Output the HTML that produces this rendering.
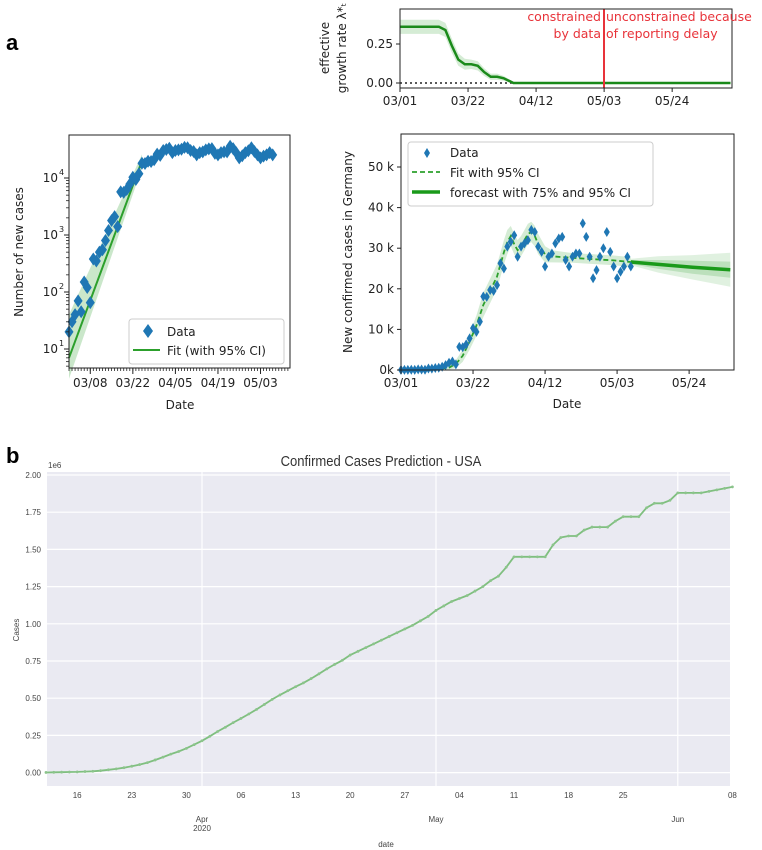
<!DOCTYPE html>
<html><head><meta charset="utf-8"><style>
body{margin:0;background:#fff}
svg{display:block;font-family:"DejaVu Sans","Liberation Sans",sans-serif}
.tk{font-size:12px;fill:#222}
.bt{font-family:"Liberation Sans",sans-serif;font-size:8px;fill:#444}
</style></head><body>
<svg id="fig" width="762" height="850" viewBox="0 0 762 850" xmlns="http://www.w3.org/2000/svg">
<text x="6" y="50" font-family="Liberation Sans" font-weight="bold" font-size="22">a</text>
<text x="6" y="463" font-family="Liberation Sans" font-weight="bold" font-size="22">b</text>
<g id="top"></g>
<g id="left"></g>
<g id="right"></g>
<g id="bot"></g>
</svg>
<script>
// ---- data ----
const caseDays = [];
const dailyCasesK = [0.02,0.03,0.04,0.07,0.045,0.15,0.12,0.065,0.38,0.35,0.5,0.55,0.8,1.2,1.8,2.1,1.4,5.7,5.6,6.3,7.8,10.3,9.4,11.9,18.1,18.0,19.7,19.5,20.9,26.3,25.0,30.4,31.6,33.2,27.9,30.4,31.2,32.0,34.5,34.0,30.4,29.1,25.5,27.9,28.7,31.2,32.4,32.8,27.1,25.5,27.9,28.7,28.7,36.1,32.8,27.9,22.6,24.6,27.9,30.0,34.0,29.1,25.5,22.6,24.2,25.5,27.9,25.5];
for(let i=0;i<dailyCasesK.length;i++) caseDays.push(i);
const fitDays = [0,10,14,16,18,20,22,24,26,28,29,30,31,32,33,34,35,36,37,38,39,40,42,44,50,56,62,67];
const fitK =    [0,0.2,0.6,1.5,3.5,7,11,16,19.5,23,26,29,31.5,33,31,29.5,30.5,32,33.5,34,33,31,28.5,28,27.6,27.3,27,26.6];
const fitBand = [0,0.2,0.5,1,1.5,2,2.5,3,3,3,3,3,3,2.5,2.5,2.5,2.5,2.5,2.5,2.5,2.5,2.5,2,1.5,1.2,1.2,1.2,1.2];
const fcDays = [67,75,85,96];
const fcK = [26.6,26,25.3,24.7];
const fc75 = [0.5,1.1,1.6,2.0];
const fc95 = [0.8,2,3,4.2];
const logFitDays = [0,24];
const logFitVals = [7,20000];
const lamDays = [0,12,14,16,18,20,22,24,26,28,30,32,34,35,102];
const lamVals = [0.36,0.36,0.34,0.24,0.15,0.12,0.12,0.11,0.07,0.04,0.04,0.03,0.01,0,0];
const lamBand = [0.045,0.045,0.045,0.045,0.04,0.035,0.03,0.03,0.025,0.02,0.02,0.015,0.01,0,0];
const usaStartDay = -20; // Mar 12 relative to Apr 1
const usaCasesM = [0.001,0.002,0.003,0.004,0.005,0.007,0.009,0.013,0.019,0.025,0.033,0.043,0.054,0.067,0.085,0.104,0.124,0.142,0.163,0.188,
0.214,0.244,0.276,0.305,0.336,0.364,0.394,0.425,0.458,0.492,0.522,0.55,0.577,0.603,0.632,0.664,0.697,0.727,0.755,0.79,0.815,0.84,0.865,0.89,0.915,0.94,0.965,0.99,1.02,1.05,
1.09,1.12,1.15,1.17,1.19,1.22,1.25,1.29,1.32,1.38,1.45,1.45,1.45,1.45,1.45,1.53,1.58,1.59,1.59,1.63,1.65,1.65,1.65,1.69,1.72,1.72,1.72,1.78,1.81,1.81,1.83,
1.88,1.88,1.88,1.88,1.89,1.90,1.91,1.92];
const usaYTicks = [0,0.25,0.5,0.75,1.0,1.25,1.5,1.75,2.0];
const usaYLabels = ["0.00","0.25","0.50","0.75","1.00","1.25","1.50","1.75","2.00"];
const usaXTickDays = [-16,-9,-2,5,12,19,26,33,40,47,54,68];
const usaXTickLabels = ["16","23","30","06","13","20","27","04","11","18","25","08"];
const rightYTicks = [0,10,20,30,40,50];
const rightYLabels = ["0k","10 k","20 k","30 k","40 k","50 k"];
const rightXTickDays = [0,21,42,63,84];
const rightXLabels = ["03/01","03/22","04/12","05/03","05/24"];
const leftXTickDays = [7,21,35,49,63];
const leftXLabels = ["03/08","03/22","04/05","04/19","05/03"];
const topYTicks = [0,0.25];
const topYLabels = ["0.00","0.25"];

const NS="http://www.w3.org/2000/svg";
function mk(p,tag,a,txt){const e=document.createElementNS(NS,tag);for(const k in a)e.setAttribute(k,a[k]);if(txt!==undefined)e.textContent=txt;p.appendChild(e);return e;}
function pts(xs,ys,fx,fy){return xs.map((d,i)=>fx(d).toFixed(1)+","+fy(ys[i]).toFixed(1)).join(" ");}
function band(xs,ys,ws,fx,fy,s){const up=xs.map((d,i)=>fx(d).toFixed(1)+","+fy(ys[i]+ws[i]*s).toFixed(1));const lo=xs.map((d,i)=>fx(d).toFixed(1)+","+fy(Math.max(ys[i]-ws[i]*s,0)).toFixed(1)).reverse();return up.concat(lo).join(" ");}

// ---- top growth-rate ----
(function(){
const g=document.getElementById('top');
const xT=d=>400+3.24*d, yT=l=>83-156*l;
let e=mk(g,'polygon',{points:band(lamDays,lamVals,lamBand,xT,yT,1),fill:'#2ca02c','fill-opacity':0.2});

e=mk(g,'line',{x1:xT(0),x2:xT(35),y1:yT(0),y2:yT(0),stroke:'#222','stroke-dasharray':'2,3','stroke-width':1.5});

e=mk(g,'polyline',{points:pts(lamDays,lamVals,xT,yT),fill:'none',stroke:'#1a8a1a','stroke-width':2.5});

e=mk(g,'line',{x1:604,x2:604,y1:9,y2:88,stroke:'#e8333a','stroke-width':2});

e=mk(g,'rect',{x:400,y:9,width:332,height:79,fill:'none',stroke:'#222'});

const ann=[["constrained",601,21,"end"],["unconstrained because",606,21,"start"],["by data",601,38,"end"],["of reporting delay",606,38,"start"]];
ann.forEach(a=>{e=mk(g,'text',{x:a[1],y:a[2],'text-anchor':a[3],fill:'#e8333a','font-size':12.5},a[0]);});
topYTicks.forEach((v,i)=>{mk(g,'line',{x1:396,x2:400,y1:yT(v),y2:yT(v),stroke:'#222'});
e=mk(g,'text',{x:393,y:yT(v)+4,'text-anchor':'end',class:'tk'},topYLabels[i]);});
rightXTickDays.forEach((d,i)=>{mk(g,'line',{x1:xT(d),x2:xT(d),y1:88,y2:92,stroke:'#222'});
e=mk(g,'text',{x:xT(d),y:105,'text-anchor':'middle',class:'tk'},rightXLabels[i]);});
e=mk(g,'text',{x:0,y:0,transform:'translate(329,48) rotate(-90)','text-anchor':'middle',class:'tk'},'effective');
e=mk(g,'text',{x:0,y:0,transform:'translate(346,48) rotate(-90)','text-anchor':'middle',class:'tk'},'growth rate λ*ₜ');
})();

function diamond(g,x,y,w,h){const e=mk(g,'polygon',{points:`${x},${y-h} ${x+w},${y} ${x},${y+h} ${x-w},${y}`,fill:'#1f77b4'});}

// ---- left log chart ----
(function(){
const g=document.getElementById('left');
const xL=d=>69+3.04*d, yL=k=>349-57*(Math.log10(k*1000)-1);
const ly=v=>349-57*(Math.log10(v)-1);
let e=mk(g,'polygon',{points:`${xL(0)},${ly(40)} ${xL(24)},${ly(26000)} ${xL(24)},${ly(15000)} ${xL(0)},${ly(3)}`,fill:'#2ca02c','fill-opacity':0.25});

e=mk(g,'polyline',{points:pts(logFitDays,logFitVals,xL,ly),fill:'none',stroke:'#2ca02c','stroke-width':2});

caseDays.forEach((d,i)=>diamond(g,xL(d),yL(dailyCasesK[i]),4.5,6.5));
e=mk(g,'rect',{x:69,y:135,width:221,height:233,fill:'none',stroke:'#222'});

for(let d=0;d<=72;d++){mk(g,'line',{x1:xL(d),x2:xL(d),y1:368,y2:371,stroke:'#222','stroke-width':0.8});}
for(let p=0;p<4;p++)for(let m=2;m<10;m++){const y=ly(m*Math.pow(10,p));if(y>135&&y<368)mk(g,'line',{x1:66,x2:69,y1:y,y2:y,stroke:'#222','stroke-width':0.8});}
const ylabs=["10","10","10","10"];
[1,2,3,4].forEach((p,i)=>{const y=ly(Math.pow(10,p));mk(g,'line',{x1:64,x2:69,y1:y,y2:y,stroke:'#222'});
e=mk(g,'text',{x:58,y:y+4,'text-anchor':'end',class:'tk'},ylabs[i]);
mk(g,'text',{x:59,y:y-3,'font-size':8,fill:'#222'},String(p));});
leftXTickDays.forEach((d,i)=>{mk(g,'line',{x1:xL(d),x2:xL(d),y1:368,y2:374,stroke:'#222'});
e=mk(g,'text',{x:xL(d),y:387,'text-anchor':'middle',class:'tk'},leftXLabels[i]);});
e=mk(g,'text',{x:180,y:409,'text-anchor':'middle',class:'tk'},'Date');
e=mk(g,'text',{x:0,y:0,transform:'translate(23,252) rotate(-90)','text-anchor':'middle',class:'tk'},'Number of new cases');
const lg=mk(g,'g',{});
mk(lg,'rect',{x:129,y:319,width:155,height:45,rx:3,fill:'#fff','fill-opacity':0.85,stroke:'#ccc'});
diamond(lg,148,331,5,7);
mk(lg,'text',{x:167,y:336,class:'tk'},'Data');
mk(lg,'line',{x1:133,x2:160,y1:350,y2:350,stroke:'#2ca02c','stroke-width':2});
mk(lg,'text',{x:167,y:355,class:'tk'},'Fit (with 95% CI)');
})();

// ---- right chart ----
(function(){
const g=document.getElementById('right');
const xR=d=>401+3.43*d, yR=k=>370-4.06*k;
let e=mk(g,'polygon',{points:band(fitDays,fitK,fitBand,xR,yR,1),fill:'#2ca02c','fill-opacity':0.2});

e=mk(g,'polygon',{points:band(fcDays,fcK,fc95,xR,yR,1),fill:'#2ca02c','fill-opacity':0.15});

e=mk(g,'polygon',{points:band(fcDays,fcK,fc75,xR,yR,1),fill:'#2ca02c','fill-opacity':0.2});

e=mk(g,'polyline',{points:pts(fitDays,fitK,xR,yR),fill:'none',stroke:'#2ca02c','stroke-width':1.8,'stroke-dasharray':'5,3'});

e=mk(g,'polyline',{points:pts(fcDays,fcK,xR,yR),fill:'none',stroke:'#1a9a1a','stroke-width':3.5});

caseDays.forEach((d,i)=>diamond(g,xR(d),yR(dailyCasesK[i]),3,5));
e=mk(g,'rect',{x:401,y:134,width:333,height:236,fill:'none',stroke:'#222'});

rightYTicks.forEach((v,i)=>{mk(g,'line',{x1:397,x2:401,y1:yR(v),y2:yR(v),stroke:'#222'});
e=mk(g,'text',{x:394,y:yR(v)+4,'text-anchor':'end',class:'tk'},rightYLabels[i]);});
rightXTickDays.forEach((d,i)=>{mk(g,'line',{x1:xR(d),x2:xR(d),y1:370,y2:374,stroke:'#222'});
e=mk(g,'text',{x:xR(d),y:387,'text-anchor':'middle',class:'tk'},rightXLabels[i]);});
e=mk(g,'text',{x:567,y:408,'text-anchor':'middle',class:'tk'},'Date');
e=mk(g,'text',{x:0,y:0,transform:'translate(352,252) rotate(-90)','text-anchor':'middle',class:'tk'},'New confirmed cases in Germany');
const lg=mk(g,'g',{});
mk(lg,'rect',{x:408,y:142,width:245,height:64,rx:3,fill:'#fff','fill-opacity':0.85,stroke:'#ccc'});
diamond(lg,427,153,3,5);
mk(lg,'text',{x:450,y:157,class:'tk'},'Data');
mk(lg,'line',{x1:412,x2:440,y1:172,y2:172,stroke:'#2ca02c','stroke-width':1.8,'stroke-dasharray':'5,3'});
mk(lg,'text',{x:450,y:177,class:'tk'},'Fit with 95% CI');
mk(lg,'line',{x1:412,x2:440,y1:192,y2:192,stroke:'#1a9a1a','stroke-width':3.5});
mk(lg,'text',{x:450,y:197,class:'tk'},'forecast with 75% and 95% CI');
})();

// ---- bottom USA chart ----
(function(){
const g=document.getElementById('bot');
const xB=d=>202+7.8*d, yB=m=>772.6-148.8*m;
let e=mk(g,'rect',{x:47,y:472,width:683,height:314,fill:'#eaeaf2'});

usaYTicks.forEach((v,i)=>{mk(g,'line',{x1:47,x2:730,y1:yB(v),y2:yB(v),stroke:'#fff','stroke-width':1.2});
e=mk(g,'text',{x:41,y:yB(v)+3,'text-anchor':'end',class:'bt'},usaYLabels[i]);});
[0,30,61].forEach(d=>mk(g,'line',{x1:xB(d),x2:xB(d),y1:472,y2:786,stroke:'#fff','stroke-width':1.2}));
const days=usaCasesM.map((v,i)=>usaStartDay+i);
e=mk(g,'polyline',{points:pts(days,usaCasesM,xB,yB),fill:'none',stroke:'#7fbf7f','stroke-width':1.8});

days.forEach((d,i)=>{e=mk(g,'circle',{cx:xB(d),cy:yB(usaCasesM[i]),r:1.4,fill:'#8cc48c'});});
usaXTickDays.forEach((d,i)=>{e=mk(g,'text',{x:xB(d),y:798,'text-anchor':'middle',class:'bt'},usaXTickLabels[i]);});
[["Apr",0],["May",30],["Jun",61]].forEach(m=>{e=mk(g,'text',{x:xB(m[1]),y:822,'text-anchor':'middle',class:'bt'},m[0]);});
e=mk(g,'text',{x:xB(0),y:831,'text-anchor':'middle',class:'bt'},'2020');
e=mk(g,'text',{x:386,y:847,'text-anchor':'middle',class:'bt'},'date');
e=mk(g,'text',{x:0,y:0,transform:'translate(19,630) rotate(-90)','text-anchor':'middle',class:'bt'},'Cases');
e=mk(g,'text',{x:48,y:468,class:'bt'},'1e6');
e=mk(g,'text',{x:381,y:466,'text-anchor':'middle','font-family':'Liberation Sans',fill:'#333','font-size':14.5,transform:'translate(381,0) scale(0.9,1) translate(-381,0)'},'Confirmed Cases Prediction - USA');

})();
</script>
</body></html>
